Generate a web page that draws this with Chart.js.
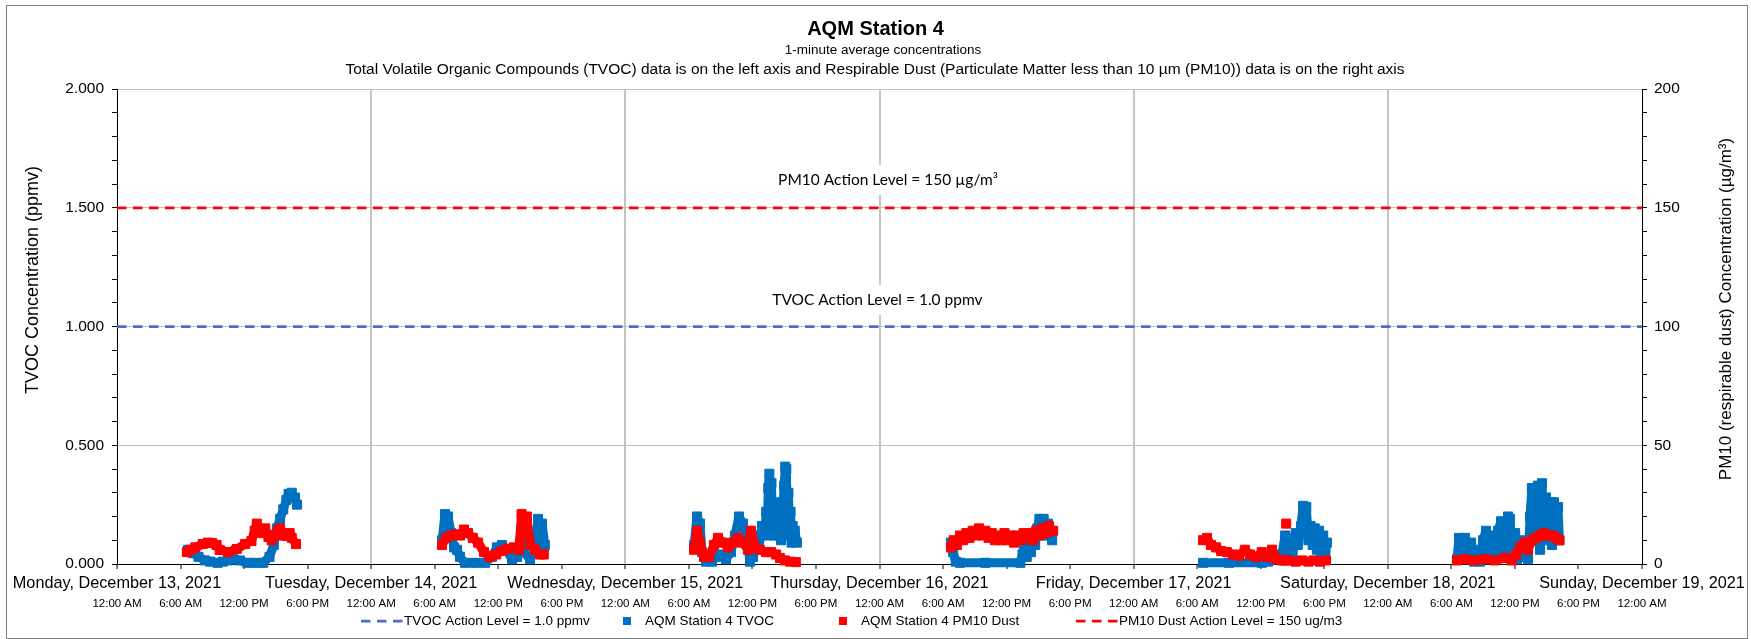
<!DOCTYPE html>
<html lang="en">
  <head>
    <meta charset="UTF-8" />
    <title>AQM Station 4</title>
    <style>
      body { margin: 0; background: #fff; }
      canvas { display: block; }
    </style>
  </head>
  <body>
    <canvas id="myChart" width="1751" height="639"></canvas>
  </body>
  <script src="https://cdn.jsdelivr.net/npm/chart.js"></script>
  <script>
    // tick labels
    var dayNames = [
      "Monday, December 13, 2021",
      "Tuesday, December 14, 2021",
      "Wednesday, December 15, 2021",
      "Thursday, December 16, 2021",
      "Friday, December 17, 2021",
      "Saturday, December 18, 2021",
      "Sunday, December 19, 2021",
    ];
    var timeLabels = ["12:00 AM", "6:00 AM", "12:00 PM", "6:00 PM"];

    // action levels
    var tvocActionLevel = 1.0; // ppmv
    var pm10ActionLevel = 150; // ug/m3

    // TVOC (ppmv), [hour of day, value], one list per day
    var tvocMon = [[6.7,0.06],[7.2,0.045],[7.7,0.03],[8.3,0.015],[8.8,0.01],[9.5,0.005],[10.0,0.01],[10.5,0.015],[11.0,0.02],[11.6,0.015],[12.3,0.005],[13.0,0.005],[13.8,0.005],[14.4,0.03],[14.8,0.08],[15.1,0.15],[15.4,0.19],[15.7,0.23],[16.0,0.27],[16.2,0.295],[16.5,0.30],[16.8,0.28],[17.0,0.25]];
    var tvocTue = [[6.7,0.10],[6.97,0.21],[7.26,0.20],[7.54,0.13],[7.82,0.07],[8.1,0.06],[8.39,0.03],[8.86,0.005],[9.8,0.005],[10.75,0.005],[11.4,0.03],[11.88,0.07],[12.35,0.08],[12.8,0.06],[13.3,0.02],[13.77,0.03],[14.15,0.14],[14.4,0.05],[15.0,0.02],[15.47,0.06],[15.75,0.19],[15.94,0.05],[16.13,0.17],[16.4,0.08]];
    var tvocWed = [[6.49,0.08],[6.77,0.20],[7.05,0.17],[7.24,0.05],[7.62,0.01],[8.18,0.01],[8.56,0.03],[9.03,0.04],[9.5,0.02],[9.97,0.05],[10.35,0.12],[10.73,0.20],[11.1,0.17],[11.5,0.10],[11.77,0.01],[12.06,0.03],[12.34,0.12],[12.62,0.07],[12.9,0.16],[13.19,0.13],[13.3,0.22],[13.4,0.12],[13.5,0.32],[13.6,0.38],[13.7,0.20],[13.8,0.34],[13.9,0.15],[14.0,0.22],[14.1,0.12],[14.2,0.24],[14.3,0.14],[14.4,0.26],[14.5,0.12],[14.6,0.22],[14.7,0.10],[14.8,0.18],[14.9,0.25],[15.0,0.33],[15.1,0.41],[15.2,0.40],[15.3,0.18],[15.4,0.30],[15.5,0.12],[15.6,0.22],[15.7,0.09],[15.8,0.16],[15.9,0.10],[16.0,0.14],[16.2,0.09]];
    var tvocThu = [[6.75,0.09],[6.95,0.05],[7.2,0.01],[7.6,0.005],[10.0,0.005],[13.3,0.005],[13.5,0.04],[13.7,0.10],[13.9,0.03],[14.1,0.09],[14.3,0.05],[14.5,0.12],[14.7,0.08],[14.9,0.15],[15.1,0.19],[15.3,0.12],[15.5,0.19],[15.7,0.14],[15.9,0.17],[16.1,0.12],[16.3,0.10]];
    var tvocFri = [[6.55,0.005],[9.0,0.005],[12.1,0.005],[12.7,0.01],[13.4,0.02],[14.0,0.04],[14.3,0.12],[14.5,0.05],[14.8,0.11],[15.0,0.04],[15.3,0.13],[15.5,0.08],[15.8,0.16],[16.0,0.245],[16.3,0.24],[16.5,0.10],[16.7,0.16],[16.9,0.08],[17.1,0.15],[17.3,0.06],[17.5,0.14],[17.7,0.05],[17.9,0.12],[18.1,0.04],[18.25,0.09]];
    var tvocSat = [[6.53,0.02],[6.72,0.11],[7.0,0.04],[7.29,0.11],[7.57,0.03],[7.86,0.09],[8.14,0.01],[8.42,0.06],[8.7,0.01],[8.99,0.10],[9.27,0.14],[9.56,0.03],[9.84,0.12],[10.12,0.05],[10.4,0.14],[10.69,0.18],[10.88,0.03],[11.16,0.12],[11.35,0.20],[11.54,0.19],[11.73,0.05],[12.02,0.13],[12.2,0.02],[12.5,0.10],[12.77,0.03],[13.05,0.08],[13.24,0.02],[13.43,0.20],[13.6,0.32],[13.8,0.10],[13.99,0.30],[14.18,0.33],[14.37,0.06],[14.56,0.34],[14.75,0.12],[14.93,0.28],[15.12,0.10],[15.31,0.26],[15.5,0.08],[15.69,0.26],[15.88,0.12],[16.07,0.24],[16.2,0.10]];

    // PM10 dust (ug/m3), [hour of day, value], one list per day
    var pm10Mon = [[6.6,5],[7.0,6],[7.4,7],[8.1,8.4],[8.6,9],[9.0,8.8],[9.4,8],[9.7,5.9],[10.5,5],[11.3,6.3],[12.1,8.4],[12.7,9.7],[13.0,14],[13.2,17],[13.5,14],[13.7,13],[14.0,15],[14.3,11.4],[14.6,10],[14.9,12.2],[15.2,14],[15.4,15],[15.7,12],[16.0,11.8],[16.3,13],[16.5,11],[16.9,8.4]];
    var pm10Tue = [[6.69,8],[7.06,11],[7.54,12],[8.0,12.5],[8.39,12],[8.76,14.5],[9.14,13],[9.6,11],[10.1,9],[10.65,5],[11.2,3],[11.8,4],[12.35,5.5],[12.9,6.5],[13.5,7],[13.96,6],[14.2,21],[14.4,14],[14.7,20],[15.0,8],[15.47,6],[15.94,4],[16.3,4]];
    var pm10Wed = [[6.49,6],[6.77,14],[7.05,9],[7.43,3],[7.9,3],[8.37,8],[8.75,11],[9.22,9],[9.69,7],[10.16,9],[10.63,11],[11.1,9],[11.58,6],[11.86,14],[12.24,7],[12.7,6],[13.28,5],[13.76,5],[14.23,4],[14.6,2.5],[15.08,1.5],[15.55,1],[16.1,0.8]];
    var pm10Thu = [[6.75,7],[7.0,10],[7.3,8],[7.6,12],[7.9,10],[8.2,13],[8.5,11],[8.8,14],[9.1,12],[9.4,15],[9.7,12],[10.0,14],[10.3,11],[10.6,13],[10.9,10],[11.2,12],[11.5,10],[11.8,13],[12.1,10],[12.4,12],[12.7,9],[13.0,12],[13.3,10],[13.6,13],[13.9,11],[14.2,13],[14.5,10],[14.8,14],[15.1,12],[15.4,15],[15.7,13],[16.0,16],[16.4,14]];
    var pm10Fri = [[6.55,10],[6.93,11],[7.3,8],[7.78,7],[8.25,5.5],[8.8,5],[9.4,4],[9.95,3.5],[10.5,6],[11.0,4],[11.55,3],[12.1,5],[12.6,3],[13.07,6],[13.5,2],[14.0,1.5],[14.25,1.5],[14.35,null],[14.4,17],[14.45,null],[14.55,1.5],[15.3,1],[15.9,1.5],[16.5,1],[17.0,1.5],[17.6,1],[18.16,1.5]];
    var pm10Sat = [[6.53,1.5],[7.3,2],[8.2,1.5],[9.15,2],[10.1,1.5],[11.05,2.5],[11.7,1.5],[12.1,4],[12.5,7],[12.9,9],[13.24,6],[13.6,10],[14.0,11],[14.37,12],[14.75,13],[15.1,12],[15.5,12],[15.9,11],[16.2,10]];

    var tvocDays = [tvocMon, tvocTue, tvocWed, tvocThu, tvocFri, tvocSat];
    var pm10Days = [pm10Mon, pm10Tue, pm10Wed, pm10Thu, pm10Fri, pm10Sat];

    function toSeries(days) {
      var out = [];
      days.forEach(function (pts, d) {
        pts.forEach(function (p) {
          out.push({ x: d * 24 + p[0], y: p[1] });
        });
        out.push({ x: d * 24 + 23.5, y: null });
      });
      return out;
    }

    var FONT = "'Liberation Sans', Arial, sans-serif";
    Chart.defaults.font.family = FONT;
    Chart.defaults.color = "#000";

    function isMajor(v, step) {
      return Math.abs(v / step - Math.round(v / step)) < 1e-6;
    }

    // white background + thin frame round the whole chart
    var framePlugin = {
      id: "frame",
      beforeDraw: function (chart) {
        var ctx = chart.ctx;
        ctx.save();
        ctx.fillStyle = "#fff";
        ctx.fillRect(0, 0, chart.width, chart.height);
        ctx.strokeStyle = "#7f7f7f";
        ctx.lineWidth = 1;
        ctx.strokeRect(6.5, 5.5, 1741, 633);
        ctx.restore();
      },
    };

    var subtitleLines = [
      { text: "1-minute average concentrations", x: 883, y: 50, size: 13.5 },
      { text: "Total Volatile Organic Compounds (TVOC) data is on the left axis and Respirable Dust (Particulate Matter less than 10 \u00b5m (PM10)) data is on the right axis", x: 875, y: 70, size: 15.5 },
    ];

    // text boxes above the action lines
    var notes = [
      { x: 72.8, y: 1.617, text: "PM10 Action Level = 150 \u00b5g/m\u00b3" },
      { x: 71.8, y: 1.112, text: "TVOC Action Level = 1.0 ppmv" },
    ];

    var textPlugin = {
      id: "texts",
      afterDatasetsDraw: function (chart) {
        var ctx = chart.ctx;
        var sx = chart.scales.x, sy = chart.scales.y;
        ctx.save();
        ctx.textAlign = "center";
        ctx.textBaseline = "middle";
        ctx.fillStyle = "#000";

        subtitleLines.forEach(function (l) {
          ctx.font = l.size + "px " + FONT;
          ctx.fillText(l.text, l.x, l.y);
        });

        ctx.font = "15.5px Lato, 'Open Sans', sans-serif";
        notes.forEach(function (n) {
          var px = sx.getPixelForValue(n.x), py = sy.getPixelForValue(n.y);
          var w = ctx.measureText(n.text).width;
          ctx.fillStyle = "#fff";
          ctx.fillRect(px - w / 2 - 4, py - 15, w + 8, 30);
          ctx.fillStyle = "#000";
          ctx.fillText(n.text, px, py);
        });

        // axis titles, both reading bottom to top
        ctx.save();
        ctx.font = "18px " + FONT;
        ctx.translate(33, 280);
        ctx.rotate(-Math.PI / 2);
        ctx.fillText("TVOC Concentration (ppmv)", 0, 0);
        ctx.restore();

        ctx.save();
        ctx.font = "17px " + FONT;
        ctx.translate(1726, 309);
        ctx.rotate(-Math.PI / 2);
        ctx.fillText("PM10 (respirable dust) Concentration (\u00b5g/m\u00b3)", 0, 0);
        ctx.restore();

        ctx.restore();
      },
    };

    // legend row under the axis
    var legendSlots = [
      { ds: 0, kind: "dash", x: 361 },
      { ds: 1, kind: "square", x: 627 },
      { ds: 2, kind: "square", x: 843 },
      { ds: 3, kind: "dash", x: 1076 },
    ];
    var legendPlugin = {
      id: "bottomLegend",
      afterDraw: function (chart) {
        var ctx = chart.ctx;
        var y = 621;
        ctx.save();
        ctx.font = "13.5px " + FONT;
        ctx.textAlign = "left";
        ctx.textBaseline = "middle";
        legendSlots.forEach(function (s) {
          var ds = chart.data.datasets[s.ds];
          if (s.kind === "dash") {
            ctx.strokeStyle = ds.borderColor;
            ctx.lineWidth = ds.borderWidth;
            ctx.setLineDash(ds.borderDash);
            ctx.beginPath();
            ctx.moveTo(s.x, y);
            ctx.lineTo(s.x + 42, y);
            ctx.stroke();
            ctx.setLineDash([]);
            ctx.fillStyle = "#000";
            ctx.fillText(ds.label, s.x + 43, y);
          } else {
            ctx.fillStyle = ds.backgroundColor;
            ctx.fillRect(s.x - 4, y - 4, 8, 8);
            ctx.fillStyle = "#000";
            ctx.fillText(ds.label, s.x + 18, y);
          }
        });
        ctx.restore();
      },
    };

    var data = {
      datasets: [
        {
          label: "TVOC Action Level = 1.0 ppmv",
          data: [{ x: 0, y: tvocActionLevel }, { x: 144, y: tvocActionLevel }],
          yAxisID: "y",
          borderColor: "#4472C4",
          borderWidth: 2.75,
          borderDash: [9.5, 6.5],
          pointRadius: 0,
          order: 0,
        },
        {
          label: "AQM Station 4 TVOC",
          data: toSeries(tvocDays),
          yAxisID: "y",
          borderColor: "#0070C0",
          backgroundColor: "#0070C0",
          borderWidth: 9,
          borderJoinStyle: "bevel",
          pointStyle: "rect",
          pointRadius: 6.4,
          pointBorderWidth: 1,
          clip: false,
          order: 2,
        },
        {
          label: "AQM Station 4 PM10 Dust",
          data: toSeries(pm10Days),
          yAxisID: "y2",
          borderColor: "#FF0000",
          backgroundColor: "#FF0000",
          borderWidth: 9,
          borderJoinStyle: "bevel",
          pointStyle: "rect",
          pointRadius: 6.4,
          pointBorderWidth: 1,
          clip: false,
          order: 1,
        },
        {
          label: "PM10 Dust Action Level = 150 ug/m3",
          data: [{ x: 0, y: pm10ActionLevel }, { x: 144, y: pm10ActionLevel }],
          yAxisID: "y2",
          borderColor: "#FF0000",
          borderWidth: 2.75,
          borderDash: [9.5, 6.5],
          pointRadius: 0,
          order: 0,
        },
      ],
    };

    const config = {
      type: "line",
      data: data,
      options: {
        responsive: false,
        animation: false,
        devicePixelRatio: 1,
        layout: { padding: 0 },
        elements: { line: { tension: 0 } },
        plugins: {
          legend: { display: false },
          tooltip: { enabled: false },
          title: {
            display: true,
            text: "AQM Station 4",
            font: { size: 20, weight: "bold", lineHeight: 1.2 },
            padding: { top: 17, bottom: 48 },
            color: "#000",
          },
        },
        scales: {
          x: {
            type: "linear",
            position: "bottom",
            weight: 0,
            min: 0,
            max: 144,
            afterFit: function (s) { s.height = 29; },
            ticks: {
              stepSize: 6,
              autoSkip: false,
              maxRotation: 0,
              minRotation: 0,
              padding: 5,
              font: { size: 16.25 },
              callback: function (v) {
                return v % 24 === 0 ? dayNames[v / 24] : "";
              },
            },
            grid: {
              color: function (c) {
                var v = c.tick ? c.tick.value : 0;
                return v % 24 === 0 && v > 0 && v < 144 ? "#C4C4C4" : "rgba(0,0,0,0)";
              },
              lineWidth: 2,
              tickColor: "#000",
              tickWidth: 1,
              tickLength: 5,
            },
            border: { display: true, color: "#000", width: 1 },
          },
          x2: {
            type: "linear",
            position: "bottom",
            weight: 1,
            min: 0,
            max: 144,
            afterFit: function (s) { s.height = 46; },
            ticks: {
              stepSize: 6,
              autoSkip: false,
              maxRotation: 0,
              minRotation: 0,
              padding: 4,
              font: { size: 11.5 },
              callback: function (v) {
                return timeLabels[(v % 24) / 6];
              },
            },
            grid: { display: false, drawTicks: false },
            border: { display: false },
          },
          y: {
            type: "linear",
            position: "left",
            min: 0,
            max: 2,
            afterFit: function (s) { s.width = 117; },
            ticks: {
              stepSize: 0.1,
              autoSkip: false,
              padding: 8,
              font: { size: 15.5 },
              callback: function (v) {
                return isMajor(v, 0.5) ? v.toFixed(3) : "";
              },
            },
            grid: {
              color: function (c) {
                var v = c.tick ? c.tick.value : 0;
                return isMajor(v, 0.5) && v > 0 ? "#BFBFBF" : "rgba(0,0,0,0)";
              },
              lineWidth: 1,
              tickColor: "#000",
              tickWidth: 1,
              tickLength: 5,
            },
            border: { display: true, color: "#000", width: 1 },
          },
          y2: {
            type: "linear",
            position: "right",
            min: 0,
            max: 200,
            afterFit: function (s) { s.width = 109; },
            ticks: {
              stepSize: 10,
              autoSkip: false,
              padding: 7,
              font: { size: 15.5 },
              callback: function (v) {
                return isMajor(v, 50) ? String(v) : "";
              },
            },
            grid: {
              drawOnChartArea: false,
              tickColor: "#000",
              tickWidth: 1,
              tickLength: 5,
            },
            border: { display: true, color: "#000", width: 1 },
          },
        },
      },
      plugins: [framePlugin, textPlugin, legendPlugin],
    };

    var myChart = new Chart(document.getElementById("myChart"), config);
  </script>
</html>
